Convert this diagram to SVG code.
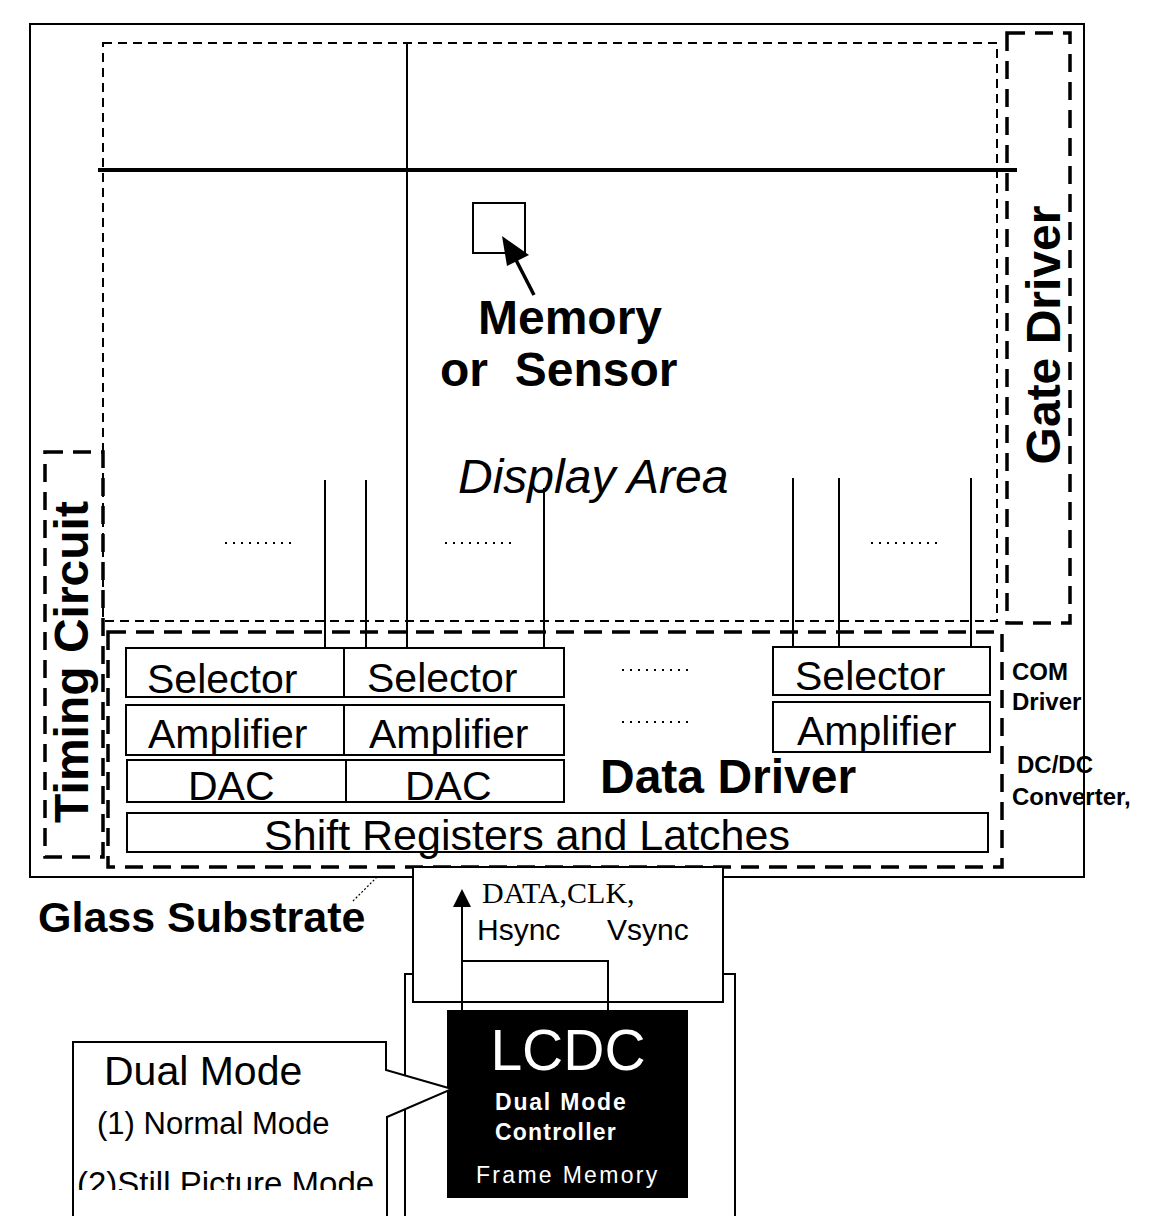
<svg xmlns="http://www.w3.org/2000/svg" width="1157" height="1216" viewBox="0 0 1157 1216">
<style>
.ln{fill:none;stroke:#000;stroke-width:2}
.box{fill:#fff;stroke:#000;stroke-width:2}
.sd{fill:none;stroke:#000;stroke-width:2;stroke-dasharray:9 6}
.ld{fill:none;stroke:#000;stroke-width:3.5;stroke-dasharray:18 10}
.t{font-family:"Liberation Sans",Arial,sans-serif;fill:#000}
.b{font-weight:bold}
.w{fill:#fff}
.dots{fill:none;stroke:#000;stroke-width:2;stroke-dasharray:2 6}
</style>
<defs>
<clipPath id="clipMode"><rect x="0" y="1000" width="440" height="190"/></clipPath>
</defs>
<rect width="1157" height="1216" fill="#fff"/>

<g id="glass-substrate">
<rect x="30" y="24" width="1054" height="853" class="ln"/>
<text x="38" y="932" class="t b" font-size="43">Glass Substrate</text>
<line x1="377" y1="877" x2="352" y2="902" stroke="#000" stroke-width="1.2" stroke-dasharray="2 2"/>
</g>

<g id="display-area">
<rect x="103" y="43" width="894" height="578" class="sd"/>
<text x="458" y="493" class="t" font-size="48" font-style="italic">Display Area</text>
<line x1="225" y1="543" x2="293" y2="543" class="dots"/>
<line x1="445" y1="543" x2="513" y2="543" class="dots"/>
<line x1="871" y1="543" x2="940" y2="543" class="dots"/>
</g>

<g id="memory-sensor">
<rect x="473" y="203" width="52" height="50" class="ln"/>
<text x="478" y="334" class="t b" font-size="48">Memory</text>
<text x="440" y="386" class="t b" font-size="48" xml:space="preserve">or  Sensor</text>
</g>

<g id="gate-driver">
<rect x="1007" y="33" width="63" height="590" class="ld"/>
<text transform="translate(1060,335) rotate(-90)" text-anchor="middle" class="t b" font-size="48">Gate Driver</text>
</g>

<g id="timing-circuit">
<rect x="45" y="452" width="58" height="405" class="ld"/>
<text transform="translate(88,662) rotate(-90)" text-anchor="middle" class="t b" font-size="48">Timing Circuit</text>
</g>

<g id="data-driver">
<rect x="108" y="632" width="894" height="235" class="ld"/>
<text x="600" y="793" class="t b" font-size="48">Data Driver</text>
<line x1="622" y1="670" x2="690" y2="670" class="dots"/>
<line x1="622" y1="722" x2="690" y2="722" class="dots"/>
</g>

<g id="selector-1"><rect x="126" y="648" width="218" height="49" class="box"/><text x="147" y="693" class="t" font-size="41">Selector</text></g>
<g id="selector-2"><rect x="344" y="648" width="220" height="49" class="box"/><text x="367" y="692" class="t" font-size="41">Selector</text></g>
<g id="selector-3"><rect x="773" y="647" width="217" height="48" class="box"/><text x="795" y="690" class="t" font-size="41">Selector</text></g>
<g id="amplifier-1"><rect x="126" y="705" width="218" height="50" class="box"/><text x="148" y="748" class="t" font-size="41">Amplifier</text></g>
<g id="amplifier-2"><rect x="344" y="705" width="220" height="50" class="box"/><text x="369" y="748" class="t" font-size="41">Amplifier</text></g>
<g id="amplifier-3"><rect x="773" y="702" width="217" height="50" class="box"/><text x="797" y="745" class="t" font-size="41">Amplifier</text></g>
<g id="dac-1"><rect x="127" y="760" width="219" height="42" class="box"/><text x="188" y="800" class="t" font-size="41">DAC</text></g>
<g id="dac-2"><rect x="346" y="760" width="218" height="42" class="box"/><text x="405" y="800" class="t" font-size="41">DAC</text></g>
<g id="shift-registers"><rect x="127" y="813" width="861" height="39" class="box"/><text x="527" y="850" text-anchor="middle" class="t" font-size="43">Shift Registers and Latches</text></g>

<g id="com-driver">
<text x="1012" y="680" class="t b" font-size="24">COM</text>
<text x="1012" y="710" class="t b" font-size="24">Driver</text>
<text x="1017" y="773" class="t b" font-size="24">DC/DC</text>
<text x="1012" y="805" class="t b" font-size="24">Converter,</text>
</g>

<g id="fpc">
<rect x="405" y="974" width="330" height="260" class="ln"/>
<rect x="413" y="867" width="310" height="135" class="box"/>
<text x="482" y="903" font-family="'Liberation Serif','Times New Roman',serif" font-size="30">DATA,CLK,</text>
<text x="477" y="940" class="t" font-size="30">Hsync</text>
<text x="607" y="940" class="t" font-size="30">Vsync</text>
</g>

<g id="lcdc">
<rect x="447" y="1010" width="241" height="188" fill="#000"/>
<text x="568" y="1070" text-anchor="middle" class="t w" font-size="57">LCDC</text>
<text x="495" y="1110" class="t b w" font-size="23" letter-spacing="1.8">Dual Mode</text>
<text x="495" y="1140" class="t b w" font-size="23" letter-spacing="1.2">Controller</text>
<text x="476" y="1183" class="t w" font-size="23" letter-spacing="2.3">Frame Memory</text>
</g>

<g id="dual-mode">
<path d="M73,1230 L73,1042 L386,1042 L386,1070 L452,1089 L387,1117 L387,1230" class="box"/>
<text x="104" y="1085" class="t" font-size="41">Dual Mode</text>
<text x="97" y="1134" class="t" font-size="31">(1) Normal Mode</text>
<text x="77" y="1195" class="t" font-size="33" clip-path="url(#clipMode)">(2)Still Picture Mode</text>
</g>

<g id="connectors">
<line x1="98" y1="170" x2="1017" y2="170" stroke="#000" stroke-width="4"/>
<line x1="407" y1="43" x2="407" y2="648" class="ln"/>
<line x1="325" y1="480" x2="325" y2="648" class="ln"/>
<line x1="366" y1="480" x2="366" y2="648" class="ln"/>
<line x1="544" y1="488" x2="544" y2="648" class="ln"/>
<line x1="793" y1="478" x2="793" y2="647" class="ln"/>
<line x1="839" y1="478" x2="839" y2="647" class="ln"/>
<line x1="971" y1="478" x2="971" y2="647" class="ln"/>
<line x1="534" y1="295" x2="515" y2="258" stroke="#000" stroke-width="3.5"/>
<path d="M502,236 L529,255 L507,266 Z" fill="#000"/>
<line x1="462" y1="1010" x2="462" y2="906" class="ln"/>
<path d="M462,889 L453,907 L471,907 Z" fill="#000"/>
<polyline points="462,961 608,961 608,1010" class="ln"/>
</g>
</svg>
